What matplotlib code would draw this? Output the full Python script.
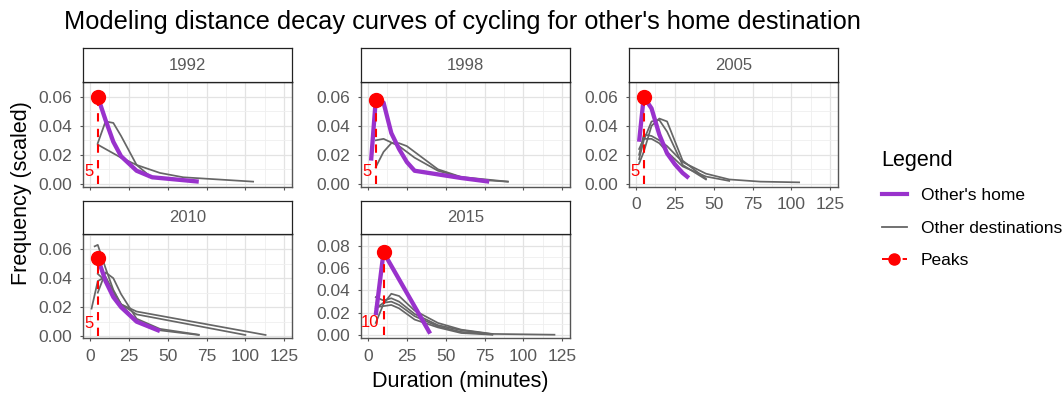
import numpy as np
import matplotlib.pyplot as plt
from matplotlib.lines import Line2D

plt.rcParams['font.family'] = ['Liberation Sans', 'DejaVu Sans']

# Distance decay curves.
years = ["1992", "1998", "2005", "2010", "2015"]

dur_home_1992 = [5, 10, 15, 20, 30, 40, 70]
freq_home_1992 = [0.060, 0.044, 0.029, 0.019, 0.009, 0.0045, 0.0015]
dur_other_1992 = [[5, 10, 20, 30, 45, 60, 105],
                  [5, 10, 15, 20, 30, 40]]
freq_other_1992 = [[0.027, 0.024, 0.018, 0.013, 0.0075, 0.0045, 0.0015],
                   [0.028, 0.043, 0.042, 0.033, 0.013, 0.004]]

dur_home_1998 = [2, 5, 10, 15, 20, 25, 30, 45, 60, 78]
freq_home_1998 = [0.016, 0.058, 0.056, 0.035, 0.024, 0.015, 0.009, 0.0065, 0.004, 0.0015]
dur_other_1998 = [[5, 10, 20, 30, 45, 60, 75, 90],
                  [5, 10, 15, 20, 25, 35, 45, 60, 90]]
freq_other_1998 = [[0.030, 0.031, 0.026, 0.018, 0.009, 0.0045, 0.0025, 0.0015],
                   [0.0115, 0.022, 0.028, 0.028, 0.026, 0.018, 0.010, 0.0047, 0.0015]]

dur_home_2005 = [2, 5, 10, 15, 20, 25, 30, 34]
freq_home_2005 = [0.029, 0.060, 0.052, 0.034, 0.021, 0.0135, 0.0075, 0.004]
dur_other_2005 = [[2, 5, 10, 15, 20, 30, 45],
                  [2, 5, 10, 15, 20, 30, 45],
                  [2, 5, 10, 15, 20, 30, 45, 60, 80, 105],
                  [2, 5, 10, 15, 20, 30, 45, 60]]
freq_other_2005 = [[0.014, 0.022, 0.040, 0.045, 0.043, 0.016, 0.0035],
                   [0.017, 0.030, 0.043, 0.044, 0.036, 0.013, 0.003],
                   [0.020, 0.034, 0.033, 0.030, 0.026, 0.015, 0.007, 0.003, 0.0015, 0.001],
                   [0.024, 0.031, 0.031, 0.028, 0.022, 0.012, 0.005, 0.002]]

dur_home_2010 = [5, 10, 15, 20, 30, 45]
freq_home_2010 = [0.054, 0.038, 0.027, 0.020, 0.010, 0.0035]
dur_other_2010 = [[3, 5, 10, 15, 20, 30, 100],
                  [1, 5, 10, 15, 20, 30, 113],
                  [5, 10, 15, 20, 30, 45, 70],
                  [5, 10, 15, 20, 30, 45, 70]]
freq_other_2010 = [[0.062, 0.063, 0.047, 0.032, 0.022, 0.015, 0.0008],
                   [0.019, 0.038, 0.041, 0.031, 0.022, 0.017, 0.0008],
                   [0.030, 0.044, 0.040, 0.029, 0.012, 0.005, 0.001],
                   [0.043, 0.038, 0.030, 0.022, 0.010, 0.004, 0.0008]]

dur_home_2015 = [5, 10, 40]
freq_home_2015 = [0.018, 0.074, 0.0015]
dur_other_2015 = [[5, 10, 15, 20, 30, 45, 60, 80, 120],
                  [5, 10, 15, 20, 30, 45, 60, 80],
                  [5, 10, 15, 20, 30, 45, 60, 80],
                  [5, 10, 15, 20, 30, 45, 60, 80]]
freq_other_2015 = [[0.011, 0.028, 0.037, 0.035, 0.022, 0.011, 0.005, 0.0012, 0.0005],
                   [0.034, 0.031, 0.033, 0.030, 0.019, 0.009, 0.0045, 0.001],
                   [0.024, 0.029, 0.030, 0.027, 0.017, 0.008, 0.003, 0.0008],
                   [0.025, 0.026, 0.027, 0.024, 0.014, 0.007, 0.002, 0.0005]]

home = {"1992": (dur_home_1992, freq_home_1992), "1998": (dur_home_1998, freq_home_1998),
        "2005": (dur_home_2005, freq_home_2005), "2010": (dur_home_2010, freq_home_2010),
        "2015": (dur_home_2015, freq_home_2015)}
others = {"1992": (dur_other_1992, freq_other_1992), "1998": (dur_other_1998, freq_other_1998),
          "2005": (dur_other_2005, freq_other_2005), "2010": (dur_other_2010, freq_other_2010),
          "2015": (dur_other_2015, freq_other_2015)}

# y ranges of the free scales
ylims = {"1992": (-0.002, 0.066), "1998": (-0.002, 0.065), "2005": (-0.002, 0.066),
         "2010": (-0.0015, 0.0703), "2015": (-0.0027, 0.082)}
ystep = 0.02

W, H = 1063, 394
fig = plt.figure(figsize=(W / 100, H / 100), dpi=100)


def rect(l, t, r, b):
    return [l / W, 1 - b / H, (r - l) / W, (b - t) / H]


# panel boxes in pixels: left, right / strip top, plot top, plot bottom
cols = [(83, 292), (361, 570), (629, 838)]
rows = [(48.3, 82.3, 186.7), (200.7, 234.3, 338.3)]

purple = "#9932CC"
grey = "#666666"
txtgrey = "#595959"

for i, yr in enumerate(years):
    (l, r) = cols[i % 3]
    (st, t, b) = rows[i // 3]
    ax = fig.add_axes(rect(l, t, r, b))
    sax = fig.add_axes(rect(l, st, r, t))
    sax.set_xticks([]); sax.set_yticks([])
    for s in sax.spines.values():
        s.set_color("#222222"); s.set_linewidth(0.9)
    sax.text(0.5, 0.5, yr, ha="center", va="center", fontsize=12, color=txtgrey,
             transform=sax.transAxes)

    for xs, ys in zip(*others[yr]):
        ax.plot(xs, ys, color=grey, lw=1.25, zorder=3)
    hx, hy = home[yr]
    ax.plot(hx, hy, color=purple, lw=3.1, zorder=4, solid_capstyle="butt")
    k = int(np.argmax(hy))
    px, py = hx[k], hy[k]
    ax.plot([px, px], [0, py], color="red", lw=1.5, ls=(0, (4, 3.5)), zorder=5)
    ax.plot([px], [py], "o", color="red", ms=10, zorder=6)
    ax.annotate(str(px), (px, 0), xytext=(-3, 3.5), textcoords="offset points",
                ha="right", va="bottom", color="red", fontsize=12)

    ax.set_xlim(-4.5, 130)
    ax.set_ylim(*ylims[yr])
    ax.set_xticks(np.arange(0, 126, 25))
    ax.set_xticks(np.arange(12.5, 126, 25), minor=True)
    yt = np.arange(0, ylims[yr][1], ystep)
    ax.set_yticks(yt)
    ax.set_yticklabels([f"{v:.2f}" for v in yt])
    ax.set_yticks(yt + ystep / 2, minor=True)
    ax.grid(True, which="major", color="#e3e3e3", lw=0.9, zorder=0)
    ax.grid(True, which="minor", color="#efefef", lw=0.6, zorder=0)
    ax.set_axisbelow(True)
    ax.tick_params(which="both", length=2.5, width=0.8, color="#555555",
                   labelsize=12.5, labelcolor=txtgrey, pad=5)
    ax.tick_params(which="minor", length=0)
    for s in ax.spines.values():
        s.set_color("#555555"); s.set_linewidth(1.0)
    ax.spines["top"].set_color("#222222")
    if yr in ("1992", "1998"):
        ax.tick_params(axis="x", labelbottom=False)

fig.text(64 / W, 1 - 22 / H, "Modeling distance decay curves of cycling for other's home destination",
         fontsize=18.3, ha="left", va="center")
fig.text(22 / W, 1 - 193 / H, "Frequency (scaled)", rotation=90, fontsize=15.5,
         ha="center", va="center")
fig.text(460 / W, 1 - 381 / H, "Duration (minutes)", fontsize=15.5, ha="center", va="center")

handles = [Line2D([], [], color=purple, lw=3),
           Line2D([], [], color=grey, lw=1.3),
           Line2D([], [], color="red", lw=1.4, ls="--", marker="o", ms=8)]
leg = fig.legend(handles, ["Other's home", "Other destinations", "Peaks"],
                 loc="upper left", bbox_to_anchor=(866 / W, 1 - 134 / H),
                 frameon=False, fontsize=12.5, title="Legend", title_fontsize=15.5,
                 handlelength=1.45, handletextpad=0.8, labelspacing=1.0)
leg._legend_box.align = "left"

fig.savefig("out.png", dpi=100)
